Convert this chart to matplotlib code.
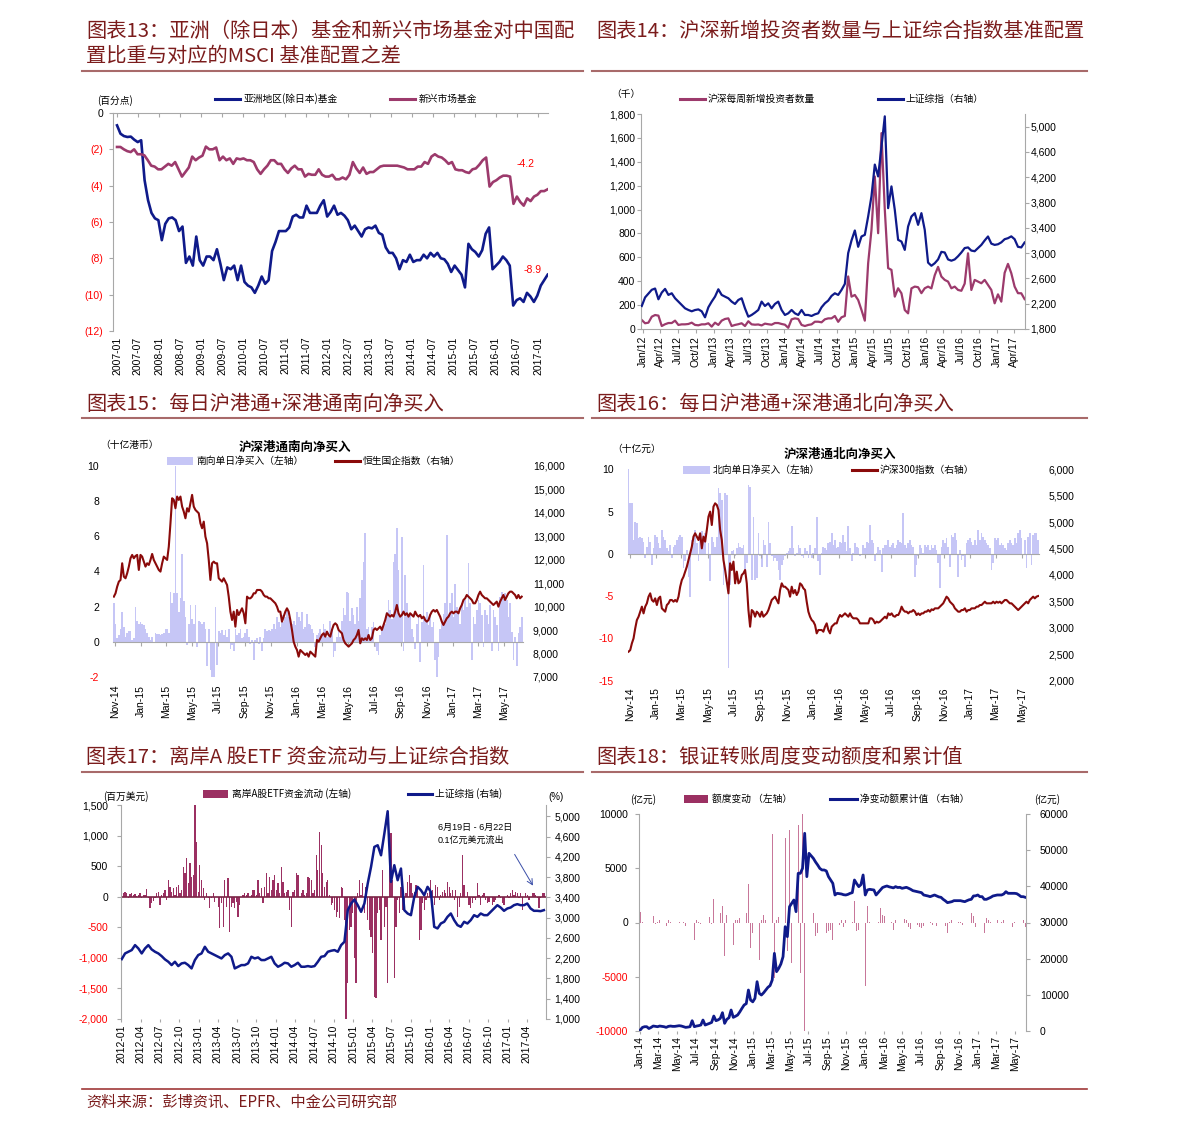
import numpy as np
import pandas as pd
import matplotlib
matplotlib.use('Agg')
import matplotlib.pyplot as plt
import matplotlib.dates as mdates
from matplotlib.lines import Line2D
from matplotlib.patches import Rectangle

plt.rcParams['font.family'] = ['Liberation Sans', 'Noto Sans CJK SC', 'DejaVu Sans']
plt.rcParams['axes.unicode_minus'] = False

# ---------------- data ----------------
# chart 13: monthly, 2007-01 .. 2017-03 (percentage points)
asia13 = [-0.68, -1.14, -1.27, -1.32, -1.3, -1.47, -1.6, -1.5, -3.7, -4.8,
          -5.5, -5.8, -5.9, -7.0, -6.1, -5.8, -5.75, -5.9, -6.5, -6.25,
          -8.25, -7.9, -8.4, -6.8, -8.1, -8.4, -7.9, -7.9, -8.1, -7.5,
          -8.3, -9.2, -8.5, -8.6, -8.4, -9.2, -8.4, -9.3, -9.5, -9.6,
          -9.9, -9.5, -9.0, -9.4, -9.2, -7.6, -7.1, -6.5, -6.5, -6.5,
          -6.3, -5.7, -5.6, -5.75, -5.75, -5.1, -5.5, -5.5, -5.5, -5.1,
          -4.8, -5.7, -5.45, -5.1, -5.6, -5.5, -5.65, -5.9, -6.4, -6.2,
          -6.5, -6.8, -6.4, -6.3, -6.35, -6.2, -6.6, -6.7, -7.4, -7.7,
          -7.7, -8.0, -8.6, -8.1, -8.2, -7.8, -8.2, -8.1, -8.1, -7.8,
          -8.0, -7.7, -7.9, -7.7, -8.0, -8.05, -8.3, -8.75, -8.4, -8.65,
          -8.9, -9.6, -7.2, -7.5, -7.65, -7.9, -7.55, -6.65, -6.3, -8.6,
          -8.4, -8.2, -7.9, -8.1, -8.4, -10.6, -10.3, -10.2, -10.4, -9.9,
          -10.1, -10.4, -10.05, -9.5, -9.2, -8.9]
em13 = [-1.87, -1.87, -2.0, -2.1, -2.15, -2.0, -2.27, -2.27, -2.33, -2.6,
        -2.9, -2.95, -3.1, -3.1, -2.95, -2.8, -2.9, -2.7, -3.1, -3.5,
        -3.25, -3.0, -2.4, -2.6, -2.45, -2.35, -1.85, -2.0, -2.0, -1.9,
        -2.6, -2.4, -2.6, -2.5, -2.8, -2.5, -2.55, -2.5, -2.6, -2.6,
        -2.7, -3.1, -3.35, -3.1, -2.9, -2.6, -2.6, -2.8, -2.8, -3.1,
        -3.3, -3.05, -2.9, -3.1, -3.1, -3.5, -3.35, -3.4, -3.4, -3.1,
        -3.4, -3.5, -3.5, -3.4, -3.65, -3.65, -3.55, -3.65, -3.4, -2.7,
        -3.05, -3.3, -3.0, -3.35, -3.25, -3.25, -3.1, -2.95, -2.9, -2.9,
        -2.9, -2.9, -2.9, -2.95, -3.0, -3.1, -3.1, -3.1, -2.95, -2.95,
        -2.7, -2.8, -2.4, -2.27, -2.4, -2.45, -2.6, -2.8, -2.7, -3.1,
        -3.15, -3.15, -3.25, -3.3, -3.1, -3.05, -2.85, -2.6, -2.45, -4.05,
        -3.8, -3.7, -3.55, -3.45, -3.45, -3.5, -5.0, -4.6, -4.9, -5.1,
        -4.7, -4.85, -4.6, -4.5, -4.3, -4.3, -4.2]

# chart 14: new investors per week (thousand) and SSE composite
investors14 = [75, 48, 53, 103, 117, 112, 25, 40, 50, 50,
               70, 34, 39, 39, 42, 53, 34, 31, 39, 39,
               48, 20, 53, 34, 70, 84, 89, 25, 34, 40,
               48, 25, 65, 39, 36, 38, 30, 45, 40, 36,
               50, 50, 42, 36, 10, 81, 89, 84, 34, 25,
               34, 39, 61, 61, 56, 81, 89, 89, 109, 60,
               98, 109, 440, 271, 285, 243, 159, 70, 551, 830,
               1277, 802, 1640, 1000, 510, 495, 271, 341, 299, 159,
               131, 340, 355, 350, 300, 341, 355, 340, 450, 520,
               439, 411, 397, 341, 355, 327, 320, 380, 634, 327,
               411, 397, 383, 411, 369, 327, 215, 290, 229, 470,
               545, 467, 355, 300, 299, 250]
sse14 = [2164, 2300, 2360, 2420, 2440, 2270, 2376, 2434, 2339, 2365,
         2286, 2233, 2180, 2127, 2101, 2080, 2100, 2110, 2080, 1985,
         2143, 2233, 2312, 2428, 2339, 2312, 2286, 2233, 2196, 2259,
         2286, 2127, 1995, 2022, 2059, 2101, 2233, 2164, 2206, 2127,
         2196, 2233, 2101, 2022, 2048, 2101, 2048, 2022, 2101, 2022,
         2022, 2006, 2032, 2048, 2143, 2206, 2249, 2323, 2365, 2339,
         2418, 2513, 3000, 3200, 3358, 3100, 3263, 3289, 3579, 3900,
         4400, 4213, 4680, 5163, 3711, 4055, 3685, 3210, 3183, 3051,
         3421, 3579, 3632, 3447, 3632, 3368, 2850, 2800, 2840, 2900,
         3020, 3010, 2900, 2880, 2900, 2950, 3010, 3080, 3090, 3040,
         3030, 3080, 3130, 3200, 3263, 3150, 3130, 3140, 3170, 3220,
         3236, 3265, 3220, 3100, 3090, 3168]

# chart 15: southbound daily net buy (HKD bn) and HSCEI
south15 = [2.2, 1.0, 0.2, 0.4, 0.7, 1.7, 0.85, 0.3, 0.5, 0.6,
           0.6, 0.1, 0.2, 2.0, 1.2, 1.0, 1.1, 1.0, 0.95, 0.75,
           0.5, 0.3, 0.1, 0.3, 0.0, 0.5, 0.45, 0.45, 0.4, 0.45,
           0.5, 0.75, 0.7, 0.5, 2.8, 2.2, 2.75, 10.0, 2.75, 1.7,
           2.5, 5.0, 2.3, 1.4, -0.2, 1.0, 2.1, 1.3, 1.0, 2.1,
           -0.3, 1.2, 1.1, 1.0, 1.1, 0.7, -1.4, 0.75, -1.6, -2.0,
           -2.0, 2.0, -1.3, 0.6, 0.5, 0.65, 0.4, 0.65, 0.3, 0.75,
           -0.4, -0.2, -0.55, 0.7, 0.4, 0.5, 0.7, 0.2, 0.3, 0.5,
           0.7, 0.3, -0.1, 0.1, -1.05, 0.1, 0.2, -0.1, 0.3, -0.5,
           0.2, 0.7, 0.6, 0.65, 0.6, 0.7, 1.0, 0.75, 1.4, 1.1,
           0.85, 1.5, 1.1, 1.4, 1.8, 1.4, 1.1, 1.0, 1.2, 0.95,
           1.7, 1.4, 1.2, 1.7, 0.7, 0.85, 1.6, 1.0, 0.95, 0.7,
           0.5, -0.3, 0.4, 0.5, 0.7, 0.4, 1.0, 0.7, 0.3, 0.5,
           1.2, 0.7, -0.85, -0.5, 0.3, 0.7, 0.3, 1.2, 1.9, 1.5,
           2.85, 2.75, 1.2, 1.9, 1.5, 1.0, 2.0, 1.2, 2.5, 3.5,
           4.55, 6.15, 0.7, 0.85, 0.3, 0.85, 1.1, -0.3, -0.5, -0.75,
           0.4, 0.7, 0.95, 1.0, 1.7, 2.35, 1.8, 1.3, 4.55, 5.0,
           6.45, 4.1, 1.4, 5.95, -0.55, 3.8, 2.2, 1.6, 1.5, 0.7,
           0.3, -0.4, 1.0, 1.4, -1.15, 1.1, 4.35, 1.4, 1.7, 0.95,
           1.6, 0.85, 1.1, -1.05, -2.0, -0.85, 0.7, 1.2, 1.6, 2.2,
           6.05, 1.4, 2.2, 2.75, 1.4, 3.3, 2.0, 1.7, 1.0, 2.2,
           1.8, 2.35, 2.0, 4.45, 2.2, -1.05, 1.4, 1.0, 1.8, 2.35,
           2.2, 1.5, -0.3, 1.8, 1.5, 1.0, 2.1, -0.5, 1.8, 1.4,
           0.95, -0.55, 2.55, 2.85, 2.45, 2.75, 2.35, 1.4, 2.2, 0.55,
           -1.05, 0.3, -1.4, 0.5, 0.85, 1.4]
hscei15 = [10423, 10565, 10850, 11063, 11133, 11844, 11276, 11205, 11418, 11702,
           12057, 12200, 12057, 12156, 12200, 11560, 12200, 12128, 11915, 11702,
           11844, 11773, 11986, 12241, 11986, 11844, 11702, 11560, 11489, 11844,
           12128, 12057, 11986, 12554, 13548, 14614, 14543, 14188, 14685, 14543,
           14685, 14259, 14045, 13761, 14188, 14045, 14401, 14756, 14259, 14117,
           14045, 13974, 13548, 13335, 13619, 12980, 12696, 11986, 11133, 11844,
           11915, 11844, 11844, 11205, 11133, 11063, 11205, 11063, 10920, 10423,
           9784, 9429, 9784, 9145, 9855, 9642, 9784, 9926, 9713, 9287,
           10423, 10352, 10352, 10423, 10565, 10565, 10707, 10707, 10707, 10636,
           10494, 10423, 10423, 10352, 10352, 10281, 10210, 10139, 9997, 9784,
           9784, 9358, 9571, 9784, 9926, 9784, 9429, 9003, 8506, 8293,
           8151, 7867, 8151, 8080, 8009, 7938, 8009, 7867, 8080, 8009,
           7938, 7867, 8577, 8506, 8648, 8790, 8861, 8719, 8932, 8790,
           8719, 9003, 9216, 9287, 9216, 9003, 8932, 8861, 8577, 8435,
           8364, 8293, 8364, 8435, 8577, 8648, 8790, 9003, 8435, 8648,
           8577, 8648, 8577, 8790, 8577, 8648, 9003, 9074, 9003, 9074,
           9145, 9003, 9216, 9429, 9713, 9642, 9571, 9642, 9571, 9784,
           10068, 9713, 9571, 9642, 9784, 9642, 9713, 9571, 9713, 9642,
           9571, 9784, 9642, 9571, 9642, 9500, 9571, 9429, 9358, 9429,
           9642, 9784, 9855, 9784, 9855, 9713, 9571, 9358, 9216, 9358,
           9500, 9571, 9713, 9784, 9713, 9784, 9784, 9713, 9926, 10068,
           10281, 10352, 10494, 10423, 10352, 10281, 10139, 10139, 10281, 10494,
           10636, 10494, 10423, 10352, 10352, 10281, 10210, 10139, 10068, 10139,
           10210, 9997, 10210, 10352, 10494, 10281, 10423, 10565, 10636, 10636,
           10565, 10494, 10352, 10494, 10352, 10423]

# chart 16: northbound daily net buy (CNY bn) and CSI 300
north16 = [10.0, 6.0, 6.0, 1.65, 3.8, 3.6, 1.85, 2.05, 1.85, 1.45,
           -0.5, 0.85, 2.05, 1.45, -1.3, 0.65, 2.25, 2.05, 1.25, 0.65,
           2.85, 2.05, 1.65, 0.65, 0.3, 1.05, -0.5, 0.85, 1.05, 1.65,
           2.05, 2.25, 2.05, -1.7, -0.9, 0.45, -2.7, -5.05, 1.65, 1.25,
           2.85, 1.25, -0.9, 2.05, 2.65, 2.05, 2.45, -0.1, 1.25, -3.25,
           2.05, 1.45, 0.85, 2.05, 7.75, 7.2, 6.4, -3.65, 7.2, 7.0,
           -13.5, -3.65, 0.3, 0.45, -0.3, 0.65, 1.25, 0.85, 0.65, 1.05,
           -1.9, -1.1, 8.15, 7.95, -3.1, 4.4, -3.1, -2.9, 2.45, -0.3,
           -1.5, 1.65, 1.05, -1.5, 3.8, 1.25, -0.3, -0.9, -0.5, -0.9,
           -1.9, -3.1, -1.3, -0.7, -0.3, 0.1, 0.3, 0.65, 3.25, 0.65,
           -0.3, 0.1, 1.05, 0.65, -0.3, -0.5, 0.65, 0.3, -0.5, 1.05,
           -0.5, 0.1, 0.65, 4.4, -0.9, -2.5, 0.1, 0.85, 0.65, 0.45,
           1.25, 1.45, 2.45, 1.05, 1.65, 0.65, 0.85, 1.45, 1.25, 2.25,
           1.45, 0.3, 3.25, 0.65, -0.9, 0.1, 1.25, 0.85, 0.65, -0.3,
           -0.1, 1.05, 0.65, 1.45, 1.25, 3.45, 1.65, 1.25, -0.9, 0.1,
           0.85, 0.45, -2.1, 0.65, 1.05, 1.05, 1.65, 0.85, 1.05, 1.25,
           0.65, 1.05, 1.65, 1.45, 1.25, 4.8, 1.05, 0.65, 1.25, 1.65,
           1.05, 0.85, -2.7, -1.3, -0.3, 1.05, 0.65, 0.1, 1.05, 0.85,
           1.05, 0.45, 1.05, 0.65, 1.05, 0.45, -1.1, -4.05, 0.85, 1.65,
           1.25, 1.85, 0.85, -1.5, 2.25, 2.05, 2.45, 1.65, -2.7, 0.45,
           -0.7, -0.3, -1.5, 1.25, 1.65, 1.85, 1.45, 1.05, 1.65, 1.05,
           2.85, 1.65, 2.45, 2.05, 1.65, 1.25, 1.05, 0.65, -1.9, -1.1,
           1.85, 1.65, 1.85, 1.05, 1.25, 1.05, 0.65, 0.45, 1.25, 1.65,
           1.25, 1.05, 1.85, 1.25, 2.45, 2.85, 1.85, -0.1, 1.65, -1.7,
           2.05, 2.45, -1.3, 2.25, 2.45, 2.45, 1.65]
csi16 = [2549, 2580, 2707, 2801, 2990, 3148, 3211, 3306, 3401, 3274,
         3401, 3464, 3590, 3653, 3527, 3495, 3558, 3432, 3558, 3590,
         3369, 3337, 3306, 3432, 3464, 3527, 3527, 3495, 3527, 3495,
         3590, 3779, 3905, 3968, 4063, 4158, 4284, 4410, 4536, 4726,
         4789, 4726, 4662, 4789, 4505, 4726, 4631, 4852, 5104, 5199,
         4946, 5293, 5356, 5325, 5230, 4852, 4662, 4284, 4095, 3874,
         3653, 4221, 4095, 4252, 3842, 4063, 3842, 3874, 4000, 4032,
         4095, 3842, 3337, 3022, 3337, 3306, 3211, 3306, 3274, 3211,
         3306, 3211, 3243, 3274, 3337, 3432, 3527, 3558, 3590, 3527,
         3464, 3716, 3842, 3779, 3779, 3748, 3716, 3590, 3779, 3653,
         3716, 3621, 3684, 3842, 3811, 3748, 3716, 3495, 3306, 3211,
         3148, 3117, 3054, 2896, 2959, 2959, 2959, 2927, 3022, 3085,
         2959, 2896, 3022, 3054, 3085, 3085, 3180, 3243, 3211, 3243,
         3274, 3243, 3211, 3274, 3211, 3180, 3180, 3180, 3148, 3085,
         3085, 3085, 3085, 3085, 3085, 3180, 3180, 3148, 3085, 3117,
         3100, 3117, 3148, 3180, 3211, 3180, 3274, 3243, 3274, 3224,
         3211, 3243, 3243, 3306, 3401, 3337, 3306, 3306, 3274, 3306,
         3306, 3337, 3306, 3243, 3274, 3243, 3274, 3274, 3306, 3306,
         3337, 3306, 3350, 3337, 3369, 3369, 3369, 3401, 3432, 3464,
         3527, 3590, 3558, 3495, 3464, 3432, 3369, 3337, 3306, 3306,
         3337, 3337, 3369, 3306, 3337, 3337, 3369, 3369, 3369, 3401,
         3401, 3432, 3432, 3464, 3495, 3464, 3464, 3464, 3464, 3495,
         3464, 3495, 3476, 3495, 3464, 3495, 3527, 3527, 3495, 3464,
         3464, 3432, 3401, 3369, 3337, 3369, 3401, 3432, 3464, 3495,
         3464, 3527, 3558, 3590, 3558, 3590, 3602]

# chart 17: offshore A-share ETF weekly flows (USD mn) and SSE composite
etf17 = [60, 70, 87, 70, -22, 49, 60, 33, 44, 16,
         33, 60, -22, 33, 33, 126, -22, -186, -104, -60,
         -22, 71, 82, -131, 33, 60, 115, -49, 278, 169,
         87, 142, 33, 169, 197, 60, 115, 497, 388, 633,
         224, 551, 333, 360, 1500, 906, 87, 524, 278, 142,
         -49, 60, -22, -186, -22, 60, -76, 5, -158, -513,
         -104, -486, 278, -158, 306, -568, -158, -104, -186, -76,
         -322, -131, -5, 33, 60, 33, 60, 5, 33, 115,
         115, 33, 278, 60, 142, -104, 169, 388, 60, 333,
         115, 278, 360, 115, 224, 60, 497, 251, 60, 87,
         115, -213, -486, 87, 115, 388, 360, 5, 60, 115,
         33, 60, 333, 306, 278, 60, 115, 688, 442, 1070,
         852, 388, 169, 251, 278, 33, -131, -104, -213, -322,
         -240, -349, 169, 142, -377, -2000, -1414, -540, -486, -267,
         -1004, -1414, 60, 278, 33, 224, -267, 169, -377, -540,
         -650, -923, -1632, -1659, -267, -213, -704, 442, -486, -158,
         -1414, 497, 1043, 278, -1332, -486, -49, -267, 169, -213,
         -158, 60, 251, 360, 224, 60, 87, 197, 169, -704,
         -540, -104, -213, -49, 60, 87, 278, 115, -131, 197,
         169, -49, 33, 87, 115, 60, 251, 169, 60, 115,
         -49, 115, -322, -158, 60, 688, 197, 5, 87, -131,
         -186, -104, -22, -49, 224, 33, -131, 33, 60, -49,
         -104, -76, 5, -131, -76, -49, 5, 33, -22, -104,
         -131, 5, 33, -22, 60, 115, 33, 87, 60, -22,
         60, -213, 5, 60, 33, -49, 5, 60, 60, 33,
         -22, -186, -22, 60, 71]
sse17 = [2182, 2294, 2327, 2360, 2458, 2392, 2294, 2392, 2458, 2373,
         2327, 2294, 2241, 2176, 2130, 2064, 2130, 2044, 2097, 2110,
         2064, 1998, 2163, 2261, 2294, 2425, 2327, 2294, 2261, 2228,
         2195, 2261, 2294, 2228, 1998, 2031, 2064, 2064, 2097, 2228,
         2195, 2215, 2163, 2163, 2195, 2228, 2097, 2031, 2064, 2110,
         2097, 2031, 2064, 2110, 2031, 2031, 2044, 2031, 2044, 2130,
         2228, 2241, 2327, 2347, 2360, 2327, 2458, 2524, 3148, 3279,
         3358, 3246, 3115, 3279, 3673, 4002, 4396, 4429, 4231, 4658,
         5100, 3706, 4035, 3739, 3969, 3148, 3082, 3049, 3410, 3608,
         3542, 3443, 3608, 3509, 2819, 2787, 2885, 2918, 3016, 3082,
         2951, 2852, 2819, 2918, 2885, 2951, 3049, 3016, 3082, 3049,
         3049, 3115, 3181, 3246, 3200, 3135, 3181, 3200, 3246, 3266,
         3246, 3246, 3279, 3181, 3135, 3135, 3128, 3148]

# chart 18: weekly bank-securities transfer change and cumulative (100mn CNY)
transfer18 = [955, 90, -60, -60, -830, 300, 620, -120, 90, 250,
              90, 90, -280, 250, 90, -60, -60, 250, 90, -60,
              90, -300, 90, -60, 1790, -1600, 250, 90, -120, 1725,
              -1140, -60, 550, -120, 2160, -1750, 250, 860, 1540, -3080,
              710, 400, 2400, -2060, 250, 250, 400, 1725, 400, 860,
              3570, -2370, -990, 860, 4400, -3450, 250, 710, 250, 550,
              710, 8190, -5140, 250, 550, 1630, 2710, 7790, -2680, 8560,
              -3760, 5640, -1290, 9020, -4680, 10100, -10000, -370, 860, -1750,
              920, -1290, -990, -1140, -830, 550, -990, -830, -680, -1600,
              -2680, 710, -220, 250, -370, 250, 400, 250, 90, 2000,
              -830, -680, 90, 2710, -5910, 1480, 90, -60, 90, -1750,
              90, 1320, 710, 620, 90, -120, 90, -680, 250, -60,
              90, -830, 300, 250, -370, -620, -370, 90, -220, -370,
              -520, -300, -60, 90, 90, -220, -60, -300, -220, -60,
              -370, -300, -990, 90, 250, 550, -60, 90, 90, -220,
              -60, 300, 550, 860, 620, -370, -60, -370, 300, -990,
              400, 250, 90, 300, 0, 250, -60, 90, 250, 860,
              -520, -60, -370, 90, -60, -220, -830, 250, -370]
cumul18 = [185, 900, 1110, 1110, 600, 900, 1300, 1200, 1110, 1294,
           1200, 1110, 924, 1200, 1294, 1200, 1200, 1294, 1387, 1300,
           1110, 924, 1000, 1110, 2773, 1110, 1294, 1400, 1572, 2958,
           1572, 1800, 2034, 2300, 4068, 2773, 3000, 3421, 4992, 2034,
           3143, 3600, 5732, 3698, 4000, 4345, 5200, 6194, 7119, 7500,
           11279, 8505, 8000, 8968, 13590, 10354, 9892, 10500, 11279, 12019,
           12500, 14052, 21448, 16364, 17288, 18500, 20524, 28844, 26071, 34391,
           35316, 36240, 33005, 43636, 43636, 45000, 54730, 42712, 49184, 48500,
           47797, 46800, 45948, 45000, 44561, 44561, 44300, 42712, 41800, 40863,
           37627, 38090, 38000, 37905, 37700, 37627, 37800, 38090, 38275, 41788,
           40800, 39939, 40500, 43174, 37627, 39014, 39199, 39100, 39014, 37627,
           38300, 39014, 39700, 39939, 40124, 39900, 39754, 39600, 39939, 39700,
           39754, 39476, 39600, 39754, 39500, 39199, 38829, 38700, 38552, 38400,
           38275, 37627, 37500, 37350, 37165, 37400, 37627, 37350, 37100, 36980,
           36425, 36000, 35501, 35650, 35778, 36056, 36056, 36056, 36056, 35900,
           35778, 36056, 36300, 36425, 37350, 37400, 37627, 37165, 37165, 36425,
           36425, 36700, 36980, 37350, 37500, 37627, 37627, 37627, 37905, 38552,
           38090, 38090, 38090, 38090, 38000, 37627, 37165, 37165, 36980]

# ---------------- styling ----------------
W, H = 1191, 1130
TITLE = '#7B1C1C'
RULE = '#A86A6A'
NAVY = '#0F1A8A'
PLUM = '#9C3A6C'
LAV = '#C6C6F6'
DRED = '#8A0A0A'
MAROON = '#9B3062'
PINK = '#C8779A'
GREY = '#A8A8A8'
NEG = '#FF0000'
TS = 7.5

fig = plt.figure(figsize=(W / 100, H / 100), dpi=100)
fig.patch.set_facecolor('white')


def box(l, t, r, b):
    return [l / W, 1 - b / H, (r - l) / W, (b - t) / H]


def ftext(x, y, s, **kw):
    kw.setdefault('va', 'center')
    fig.text(x / W, 1 - y / H, s, **kw)


def hline(x0, x1, y, color, lw):
    fig.add_artist(Line2D([x0 / W, x1 / W], [1 - y / H] * 2, color=color, lw=lw,
                          transform=fig.transFigure))


def patch(x0, x1, y, h, color):
    fig.add_artist(Rectangle((x0 / W, 1 - (y + h / 2) / H), (x1 - x0) / W, h / H,
                             color=color, transform=fig.transFigure, lw=0))


def d(s):
    return mdates.date2num(pd.Timestamp(s))


def span(start, end, n):
    return np.linspace(d(start), d(end), n)


def xdates(ax, start, end, freq, fmt):
    t = pd.date_range(start, end, freq=freq)
    ax.set_xticks(mdates.date2num(t.to_pydatetime()))
    ax.set_xticklabels(t.strftime(fmt))


def yticks(ax, ticks, fmt, red=True):
    ax.set_yticks(ticks)
    ax.set_yticklabels([fmt(v) for v in ticks])
    for lab, v in zip(ax.get_yticklabels(), ticks):
        lab.set_color(NEG if (red and v < 0) else 'black')


def spines(ax, show, color=GREY):
    for k, sp in ax.spines.items():
        sp.set_visible(k in show)
        sp.set_color(color)
        sp.set_linewidth(0.8)


def comma(v):
    return f'{int(v):,}'


# ---------------- headings ----------------
tk = dict(color=TITLE, fontsize=14.6, family=['Noto Sans CJK SC'])
ftext(86, 31, '图表13：亚洲（除日本）基金和新兴市场基金对中国配', **tk)
ftext(86, 56, '置比重与对应的MSCI 基准配置之差', **tk)
ftext(596, 31, '图表14：沪深新增投资者数量与上证综合指数基准配置', **tk)
ftext(86, 404, '图表15：每日沪港通+深港通南向净买入', **tk)
ftext(596, 404, '图表16：每日沪港通+深港通北向净买入', **tk)
ftext(86, 757, '图表17：离岸A 股ETF 资金流动与上证综合指数', **tk)
ftext(596, 757, '图表18：银证转账周度变动额度和累计值', **tk)
for y in (71, 418, 772):
    hline(82, 583, y, RULE, 1.5)
    hline(592, 1087, y, RULE, 1.5)
hline(82, 1087, 1089, '#A03838', 1.2)
ftext(86, 1102, '资料来源：彭博资讯、EPFR、中金公司研究部', color=TITLE, fontsize=11,
      family=['Noto Sans CJK SC'])

lk = dict(fontsize=7, family=['Noto Sans CJK SC'])

# ---------------- chart 13 ----------------
ax = fig.add_axes(box(113, 113, 548, 331))
ax.plot(span('2007-01-01', '2017-03-25', len(asia13)), asia13, color=NAVY, lw=1.9)
ax.plot(span('2007-01-01', '2017-03-25', len(em13)), em13, color=PLUM, lw=1.9)
ax.set_ylim(-12, 0)
ax.set_xlim(d('2006-11-27'), d('2017-03-28'))
spines(ax, ('left', 'top'))
yticks(ax, list(range(0, -13, -2)), lambda v: '0' if v == 0 else f'({-v})')
xdates(ax, '2007-01-01', '2017-01-01', '6MS', '%Y-%m')
ax.tick_params(axis='x', bottom=False, top=True, labelbottom=True, direction='in',
               length=3, color=GREY, labelrotation=90, labelsize=TS, pad=4)
ax.tick_params(axis='y', direction='out', length=3, color=GREY, labelsize=TS, pad=4)
ax.text(d('2016-09-18'), -2.82, '-4.2', color=NEG, fontsize=TS, ha='center', va='center')
ax.text(d('2016-11-17'), -8.66, '-8.9', color=NEG, fontsize=TS, ha='center', va='center')
ftext(97, 101, '(百分点)', **lk)
hline(215, 240, 99, NAVY, 2.2)
ftext(244, 99, '亚洲地区(除日本)基金', **lk)
hline(390, 415, 99, PLUM, 2.2)
ftext(419, 99, '新兴市场基金', **lk)

# ---------------- chart 14 ----------------
ax = fig.add_axes(box(641, 114, 1025, 329))
ax2 = ax.twinx()
ax.plot(span('2011-12-27', '2017-05-25', len(investors14)), investors14, color=PLUM, lw=1.6)
ax2.plot(span('2011-12-27', '2017-05-25', len(sse14)), sse14, color=NAVY, lw=1.6)
ax.set_ylim(0, 1800)
ax2.set_ylim(1800, 5200)
ax.set_xlim(d('2011-12-23'), d('2017-05-27'))
spines(ax, ('left', 'bottom'))
spines(ax2, ('right',))
yticks(ax, list(range(0, 1801, 200)), comma)
yticks(ax2, list(range(1800, 5001, 400)), comma)
xdates(ax, '2012-01-01', '2017-04-01', 'QS', '%b/%y')
ax.tick_params(axis='x', direction='out', length=3, color=GREY, labelrotation=90,
               labelsize=TS, pad=2)
ax.tick_params(axis='y', direction='out', length=3, color=GREY, labelsize=TS, pad=1)
ax2.tick_params(axis='y', direction='out', length=3, color=GREY, labelsize=TS, pad=1)
ftext(611, 94, '（千）', **lk)
hline(680, 705, 99, PLUM, 2.2)
ftext(708, 99, '沪深每周新增投资者数量', **lk)
hline(878, 903, 99, NAVY, 2.2)
ftext(906, 99, '上证综指（右轴）', **lk)

# ---------------- chart 15 ----------------
ax = fig.add_axes(box(113, 465.7, 523, 677))
ax2 = ax.twinx()
x15 = span('2014-10-30', '2017-06-11', len(south15))
ax.bar(x15, south15, width=(x15[1] - x15[0]) * 1.05, color=LAV, lw=0)
ax2.plot(span('2014-10-30', '2017-06-11', len(hscei15)), hscei15, color=DRED, lw=1.5)
ax.set_ylim(-2, 10)
ax2.set_ylim(7000, 16000)
ax.set_xlim(d('2014-10-28'), d('2017-06-14'))
spines(ax, ('bottom',))
ax.spines['bottom'].set_position(('data', 0))
spines(ax2, ())
yticks(ax, list(range(10, -3, -2)), lambda v: str(v))
yticks(ax2, list(range(7000, 16001, 1000)), comma)
xdates(ax, '2014-11-01', '2017-05-01', '2MS', '%b-%y')
ax.tick_params(axis='x', direction='out', length=3, color=GREY, labelrotation=90,
               labelsize=TS, pad=28)
ax.tick_params(axis='y', length=0, labelsize=TS, pad=10)
ax2.tick_params(axis='y', length=0, labelsize=TS, pad=7)
ftext(100, 445, '（十亿港币）', **lk)
ftext(295, 447, '沪深港通南向净买入', fontsize=9, fontweight='bold', ha='center',
      family=['Noto Sans CJK SC'])
patch(167, 193, 461, 8, LAV)
ftext(196, 461, '南向单日净买入（左轴）', **lk)
hline(335, 360, 461, DRED, 2.2)
ftext(363, 461, '恒生国企指数（右轴）', **lk)

# ---------------- chart 16 ----------------
ax = fig.add_axes(box(627.7, 469.3, 1039, 680.7))
ax2 = ax.twinx()
x16 = span('2014-10-29', '2017-06-08', len(north16))
ax.bar(x16, north16, width=(x16[1] - x16[0]) * 1.05, color=LAV, lw=0)
ax2.plot(span('2014-10-29', '2017-06-08', len(csi16)), csi16, color=DRED, lw=1.5)
ax.set_ylim(-15, 10)
ax2.set_ylim(2000, 6000)
ax.set_xlim(d('2014-10-27'), d('2017-06-10'))
spines(ax, ('bottom',))
ax.spines['bottom'].set_position(('data', 0))
spines(ax2, ())
yticks(ax, list(range(10, -16, -5)), lambda v: str(v))
yticks(ax2, list(range(2000, 6001, 500)), comma)
xdates(ax, '2014-11-01', '2017-05-01', '2MS', '%b-%y')
ax.tick_params(axis='x', direction='out', length=3, color=GREY, labelrotation=90,
               labelsize=TS, pad=93)
ax.tick_params(axis='y', length=0, labelsize=TS, pad=10)
ax2.tick_params(axis='y', length=0, labelsize=TS, pad=7)
ftext(612, 449, '（十亿元）', **lk)
ftext(840, 454, '沪深港通北向净买入', fontsize=9, fontweight='bold', ha='center',
      family=['Noto Sans CJK SC'])
patch(683, 710, 470, 8, LAV)
ftext(713, 470, '北向单日净买入（左轴）', **lk)
hline(852, 877, 470, DRED, 2.2)
ftext(880, 470, '沪深300指数（右轴）', **lk)

# ---------------- chart 17 ----------------
ax = fig.add_axes(box(120.7, 805.3, 546, 1019))
ax2 = ax.twinx()
x17 = span('2012-01-03', '2017-06-22', len(etf17))
ax.bar(x17, etf17, width=(x17[1] - x17[0]) * 0.75, color=MAROON, lw=0)
ax.axhline(0, color='#7A2446', lw=1.2)
ax2.plot(span('2012-01-03', '2017-06-22', len(sse17)), sse17, color=NAVY, lw=1.8)
ax.set_ylim(-2000, 1500)
ax2.set_ylim(1000, 5217)
ax.set_xlim(d('2011-12-29'), d('2017-07-02'))
spines(ax, ('left',))
spines(ax2, ('right',))
yticks(ax, list(range(1500, -2001, -500)), comma)
yticks(ax2, list(range(1000, 5001, 400)), comma)
xdates(ax, '2012-01-01', '2017-04-01', 'QS', '%Y-%m')
ax.tick_params(axis='x', direction='out', length=2, color=GREY, labelrotation=90,
               labelsize=TS, pad=2)
ax.tick_params(axis='y', direction='out', length=3, color=GREY, labelsize=TS, pad=6)
ax2.tick_params(axis='y', direction='out', length=3, color=GREY, labelsize=TS, pad=3)
ax.annotate('', xy=(d('2017-05-08'), 145), xytext=(d('2017-01-28'), 735),
            arrowprops=dict(arrowstyle='->', color='#3A4EA8', lw=0.7))
ftext(438, 827, '6月19日 - 6月22日', fontsize=6.5, family=['Liberation Sans', 'Noto Sans CJK SC'])
ftext(438, 840, '0.1亿元美元流出', fontsize=6.5, family=['Liberation Sans', 'Noto Sans CJK SC'])
ftext(103, 797, '(百万美元)', **lk)
ftext(556, 797, '(%)', fontsize=7, ha='center')
patch(203, 228, 794, 8, MAROON)
ftext(232, 794, '离岸A股ETF资金流动 (左轴)', **lk)
hline(408, 432, 794, NAVY, 2.2)
ftext(435, 794, '上证综指 (右轴)', **lk)

# ---------------- chart 18 ----------------
ax = fig.add_axes(box(639, 814.3, 1026, 1030.7))
ax2 = ax.twinx()
x18 = span('2014-01-01', '2017-06-04', len(transfer18))
ax.bar(x18, transfer18, width=(x18[1] - x18[0]) * 0.3, color=PINK, lw=0)
ax2.plot(span('2014-01-01', '2017-06-04', len(cumul18)), cumul18, color=NAVY, lw=2.0)
ax.set_ylim(-10000, 10000)
ax2.set_ylim(0, 60000)
ax.set_xlim(d('2013-12-28'), d('2017-06-06'))
spines(ax, ('left',))
spines(ax2, ('right',))
yticks(ax, [10000, 5000, 0, -5000, -10000], lambda v: str(v))
yticks(ax2, list(range(0, 60001, 10000)), lambda v: str(v))
xdates(ax, '2014-01-01', '2017-05-01', '2MS', '%b-%y')
ax.tick_params(axis='x', direction='out', length=2, color=GREY, labelrotation=90,
               labelsize=TS, pad=2)
ax.tick_params(axis='y', direction='out', length=3, color=GREY, labelsize=TS, pad=5)
ax2.tick_params(axis='y', direction='out', length=3, color=GREY, labelsize=TS, pad=7)
ftext(630, 800, '(亿元)', **lk)
ftext(1047, 800, '(亿元)', ha='center', **lk)
patch(684, 708, 799, 8, MAROON)
ftext(712, 799, '额度变动 （左轴）', **lk)
hline(830, 857, 799, NAVY, 2.2)
ftext(860, 799, '净变动额累计值 （右轴）', **lk)

fig.savefig('out.png', dpi=100)
